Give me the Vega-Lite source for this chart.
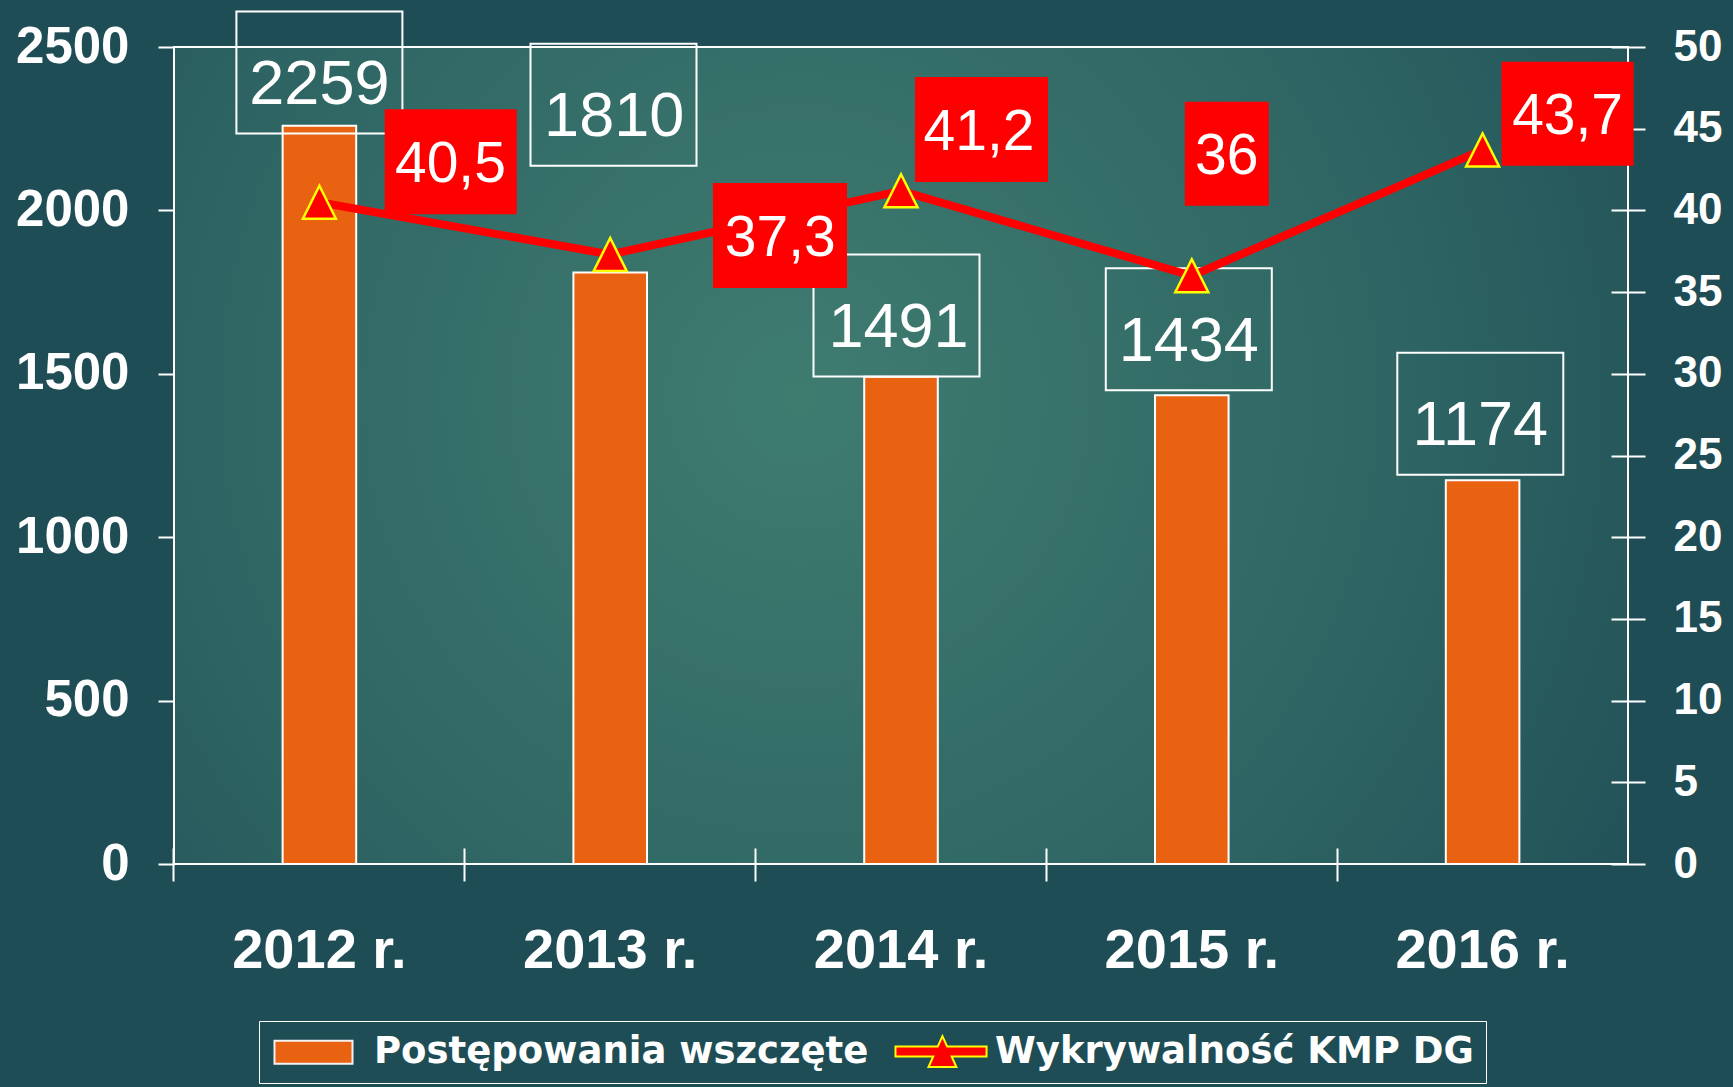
{
  "$schema": "https://vega.github.io/schema/vega-lite/v6.json",
  "width": 1454,
  "height": 817,
  "autosize": {"type": "none"},
  "padding": {"left": 174, "top": 47, "right": 105, "bottom": 223},
  "background": "#1f4d55",
  "config": {
    "locale": {"number": {"decimal": ",", "thousands": " ", "grouping": [3], "currency": ["", " zł"]}},
    "view": {
      "stroke": "#ffffff",
      "strokeWidth": 2,
      "fill": {
        "gradient": "radial",
        "x1": 0.43, "y1": 0.46, "r1": 0,
        "x2": 0.43, "y2": 0.46, "r2": 0.72,
        "stops": [
          {"offset": 0, "color": "#3f7c70"},
          {"offset": 0.55, "color": "#2f6664"},
          {"offset": 1, "color": "#1f4d55"}
        ]
      }
    },
    "axis": {"labelColor": "#ffffff", "tickColor": "#ffffff", "tickWidth": 2, "domain": false, "grid": false, "title": null},
    "legend": {
      "orient": "none", "legendX": 85, "legendY": 974, "direction": "horizontal", "title": null,
      "labelFont": "DejaVu Sans", "labelFontWeight": "bold", "labelFontSize": 37, "labelColor": "#ffffff",
      "labelLimit": 2000, "symbolSize": 900, "symbolStrokeWidth": 2, "labelOffset": 66, "columnPadding": 22, "padding": 12,
      "strokeColor": "#ffffff"
    }
  },
  "datasets": {
    "bars": [
      {"year": "2012 r.", "count": 2259},
      {"year": "2013 r.", "count": 1810},
      {"year": "2014 r.", "count": 1491},
      {"year": "2015 r.", "count": 1434},
      {"year": "2016 r.", "count": 1174}
    ],
    "rate": [
      {"year": "2012 r.", "rate": 40.5},
      {"year": "2013 r.", "rate": 37.3},
      {"year": "2014 r.", "rate": 41.2},
      {"year": "2015 r.", "rate": 36},
      {"year": "2016 r.", "rate": 43.7}
    ],
    "series": [
      {"series": "Postępowania wszczęte"},
      {"series": "Wykrywalność KMP DG"}
    ]
  },
  "layer": [
    {
      "data": {"name": "series"},
      "mark": {"type": "point", "size": 0, "filled": true, "opacity": 1},
      "encoding": {
        "fill": {
          "field": "series", "type": "nominal", "sort": null,
          "scale": {"domain": ["Postępowania wszczęte", "Wykrywalność KMP DG"], "range": ["#e86212", "#ff0000"]},
          "legend": {"orient": "none", "legendX": 85, "legendY": 974, "direction": "horizontal", "title": null}
        },
        "stroke": {
          "field": "series", "type": "nominal", "sort": null,
          "scale": {"domain": ["Postępowania wszczęte", "Wykrywalność KMP DG"], "range": ["#f2f2f2", "#ffff00"]},
          "legend": {"orient": "none", "legendX": 85, "legendY": 974, "direction": "horizontal", "title": null}
        },
        "shape": {
          "field": "series", "type": "nominal", "sort": null,
          "scale": {"domain": ["Postępowania wszczęte", "Wykrywalność KMP DG"], "range": ["M-1,-0.77H4.2V0.77H-1Z", "M-1,-0.33H1.814L2.13,-1.03L2.446,-0.33H5.07V0.33H2.744L3.06,1.03H1.2L1.516,0.33H-1Z"]},
          "legend": {"orient": "none", "legendX": 85, "legendY": 974, "direction": "horizontal", "title": null}
        }
      }
    },
    {
      "data": {"name": "bars"},
      "encoding": {
        "x": {
          "field": "year", "type": "nominal", "sort": null,
          "scale": {"paddingInner": 0.747, "paddingOuter": 0.3735},
          "axis": {
            "orient": "bottom", "offset": -16, "tickSize": 33, "bandPosition": -1.4776,
            "labelPadding": 42, "labelFont": "Liberation Sans", "labelFontWeight": "bold",
            "labelFontSize": 56, "labelAngle": 0, "labelColor": "#ffffff", "domain": false, "title": null
          }
        },
        "y": {
          "field": "count", "type": "quantitative",
          "scale": {"domain": [0, 2500], "nice": false},
          "axis": {
            "orient": "left", "values": [0, 500, 1000, 1500, 2000, 2500], "format": "d",
            "tickSize": 16, "labelPadding": 29, "labelFont": "Liberation Sans", "labelFontWeight": "bold",
            "labelFontSize": 51, "labelColor": "#ffffff", "domain": false, "title": null
          }
        }
      },
      "layer": [
        {
          "mark": {"type": "bar", "color": "#e86212", "stroke": "#ffffff", "strokeWidth": 2, "opacity": 1}
        },
        {
          "mark": {
            "type": "point", "filled": false, "stroke": "#ffffff", "strokeWidth": 2, "size": 10000, "opacity": 1,
            "shape": {"expr": "datum.year == '2012 r.' ? 'M-1.66,-2.286H1.66V0.154H-1.66Z' : datum.year == '2013 r.' ? 'M-1.594,-4.574H1.726V-2.134H-1.594Z' : datum.year == '2014 r.' ? 'M-1.75,-2.444H1.57V-0.004H-1.75Z' : datum.year == '2015 r.' ? 'M-1.72,-2.542H1.6V-0.102H-1.72Z' : 'M-1.706,-2.552H1.614V-0.112H-1.706Z'"}
          }
        },
        {
          "mark": {
            "type": "text", "font": "Liberation Sans", "fontSize": 63, "color": "#ffffff",
            "align": "center", "baseline": "middle",
            "dx": {"expr": "datum.year == '2012 r.' ? 0 : datum.year == '2013 r.' ? 4 : datum.year == '2014 r.' ? -2.5 : datum.year == '2015 r.' ? -3 : -2.3"},
            "dy": {"expr": "datum.year == '2012 r.' ? -40.6 : datum.year == '2013 r.' ? -155 : datum.year == '2014 r.' ? -48.5 : datum.year == '2015 r.' ? -53.4 : -53.9"}
          },
          "encoding": {"text": {"field": "count", "type": "quantitative", "format": "d"}}
        }
      ]
    },
    {
      "data": {"name": "rate"},
      "encoding": {
        "x": {
          "field": "year", "type": "nominal", "sort": null,
          "scale": {"paddingInner": 0.747, "paddingOuter": 0.3735},
          "axis": {
            "orient": "bottom", "offset": -16, "tickSize": 33, "bandPosition": -1.4776,
            "labelPadding": 42, "labelFont": "Liberation Sans", "labelFontWeight": "bold",
            "labelFontSize": 56, "labelAngle": 0, "labelColor": "#ffffff", "domain": false, "title": null
          }
        },
        "y": {
          "field": "rate", "type": "quantitative",
          "scale": {"domain": [0, 50], "nice": false},
          "axis": {
            "orient": "right", "values": [0, 5, 10, 15, 20, 25, 30, 35, 40, 45, 50], "format": "d",
            "offset": -17, "tickSize": 34, "labelPadding": 28, "labelFont": "Liberation Sans", "labelFontWeight": "bold",
            "labelFontSize": 44, "labelColor": "#ffffff", "domain": false, "title": null
          }
        }
      },
      "layer": [
        {
          "mark": {"type": "line", "color": "#ff0000", "strokeWidth": 8, "opacity": 1}
        },
        {
          "mark": {"type": "point", "shape": "M0,-1L1,1L-1,1Z", "size": 1089, "filled": true, "fill": "#ff0000", "stroke": "#ffff00", "strokeWidth": 2.5, "opacity": 1}
        },
        {
          "mark": {
            "type": "point", "filled": true, "fill": "#ff0000", "strokeWidth": 0, "size": 10000, "opacity": 1,
            "shape": {"expr": "datum.year == '2012 r.' ? 'M1.306,-1.86H3.946V0.24H1.306Z' : datum.year == '2013 r.' ? 'M2.056,-1.43H4.736V0.67H2.056Z' : datum.year == '2014 r.' ? 'M0.28,-2.276H2.94V-0.176H0.28Z' : datum.year == '2015 r.' ? 'M-0.14,-3.48H1.54V-1.4H-0.14Z' : 'M0.38,-1.762H3.02V0.318H0.38Z'"}
          }
        },
        {
          "mark": {
            "type": "text", "font": "Liberation Sans", "fontSize": 57, "color": "#ffffff",
            "align": "center", "baseline": "middle",
            "dx": {"expr": "datum.year == '2012 r.' ? 131 : datum.year == '2013 r.' ? 170 : datum.year == '2014 r.' ? 78 : datum.year == '2015 r.' ? 35 : 85"},
            "dy": {"expr": "datum.year == '2012 r.' ? -37 : datum.year == '2013 r.' ? -16 : datum.year == '2014 r.' ? -58 : datum.year == '2015 r.' ? -119 : -33"}
          },
          "encoding": {"text": {"field": "rate", "type": "quantitative", "format": ".1~f"}}
        }
      ]
    }
  ],
  "resolve": {"scale": {"y": "independent"}}
}
